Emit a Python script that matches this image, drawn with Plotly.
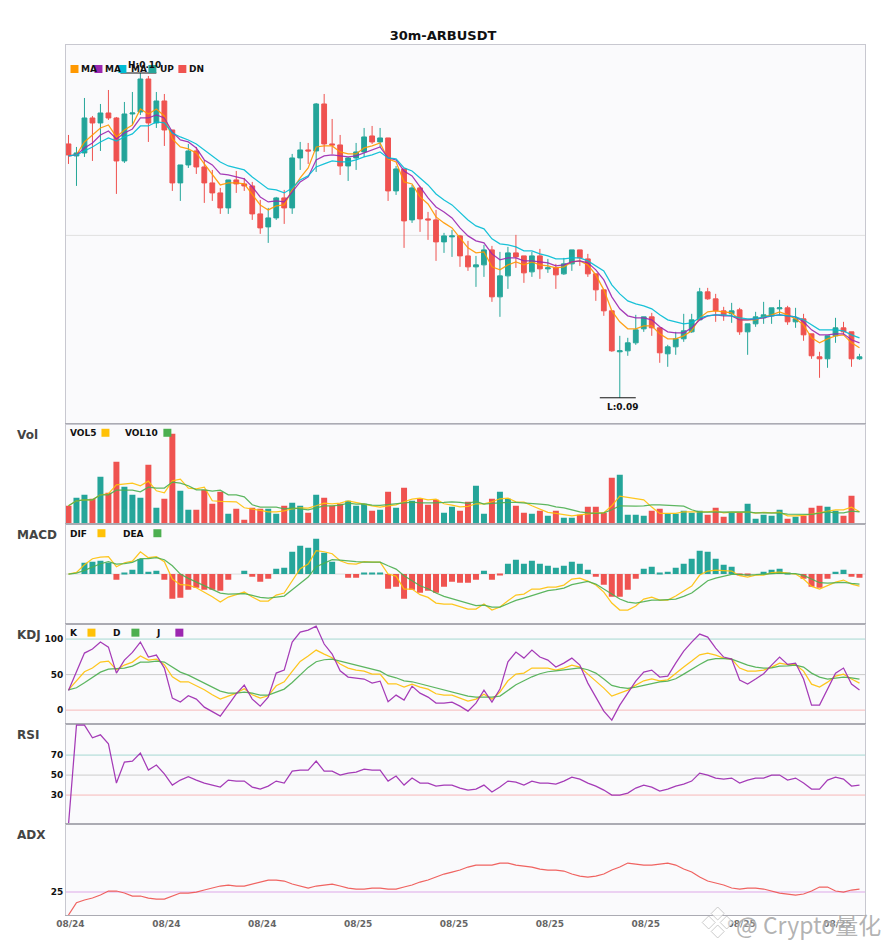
#Recreating the 30m ARBUSDT indicator chart
import numpy as np
import plotly.graph_objects as go
from plotly.subplots import make_subplots

#Prices, 32500 read units = 1 USDT above 0.09
open_read = [254,242,245,280,275,285,280,237,284,286,319,275,297,268,215,233,247,231,215,205,190,218,214,212,184,171,180,200,190,240,
             248,247,294,254,253,232,240,246,262,256,260,207,229,178,210,179,178,156,161,162,142,131,133,148,101,122,145,142,126,142,
             129,130,124,134,148,139,124,108,87,46,47,55,69,81,70,44,51,59,66,78,106,99,87,84,88,66,74,80,82,89,90,76,79,64,41,39,62,70,66,39]
high_read = [263,251,300,282,294,308,281,296,306,325,322,306,304,268,233,254,251,238,228,210,218,227,220,216,198,190,201,208,244,256,
             255,295,304,279,263,241,255,270,272,270,260,232,229,213,212,186,188,165,168,163,157,142,153,152,146,151,163,142,146,149,
             139,134,140,148,148,144,124,108,87,62,60,83,81,85,70,53,66,84,84,110,110,104,91,95,90,74,86,96,90,98,92,90,84,64,46,62,80,76,66,44]
low_read = [234,212,241,237,247,278,204,235,273,283,256,270,252,207,197,230,224,195,197,184,184,205,207,178,164,155,178,174,184,228,
            234,226,246,244,223,217,228,241,254,251,197,203,150,175,166,158,137,145,141,131,127,111,121,96,81,109,130,115,121,119,
            125,109,123,127,132,121,97,82,46,0,42,53,66,62,35,31,43,56,65,78,98,76,77,75,63,43,71,74,74,83,73,70,57,39,20,30,55,63,31,38]
close_read = [243,245,280,275,285,280,237,284,285,319,275,297,268,215,233,247,231,215,205,190,218,214,212,184,170,180,200,190,240,248,
              247,294,254,253,232,240,246,261,256,260,207,229,177,210,179,178,156,162,162,142,131,133,148,101,122,145,141,125,142,129,
              130,123,134,148,140,124,108,87,47,47,55,68,81,70,45,51,59,67,78,106,99,87,83,87,66,74,81,83,90,90,76,79,63,42,39,62,70,66,39,41]
ma5_read = [242,243,256,263,270,273,261,268,273,289,284,289,282,259,251,249,245,234,224,213,215,215,214,203,193,188,192,193,208,220,
            230,251,252,252,246,244,244,250,252,255,239,236,216,214,201,194,181,175,170,160,150,145,146,131,128,133,136,133,136,133,
            132,130,131,136,137,133,123,108,87,76,69,69,72,72,64,59,59,62,67,80,86,87,86,85,78,78,78,81,83,86,83,79,73,60,55,59,62,63,55,50]
ma10_read = [242,243,250,255,263,267,259,265,269,280,280,283,280,266,258,256,250,238,233,224,223,221,219,211,201,196,197,196,206,216,
             221,238,242,243,242,241,242,245,248,251,240,238,227,222,211,200,191,186,180,170,162,157,155,144,138,140,140,137,137,136,
             135,132,133,136,137,135,128,118,101,89,82,80,80,78,71,66,65,65,70,78,82,83,82,82,78,78,79,80,82,83,82,81,76,68,63,63,64,64,58,55]
ma20_read = [242,243,247,251,256,260,257,261,264,272,272,276,275,265,261,258,254,248,242,236,232,230,228,221,215,209,208,205,210,218,
             222,231,234,237,236,236,238,241,243,246,240,239,230,227,220,213,204,198,193,185,178,172,169,159,154,153,151,147,147,144,
             142,139,139,140,140,137,132,127,113,104,97,94,92,89,83,78,76,74,75,80,82,83,83,82,80,79,79,81,82,83,82,81,78,73,68,68,68,67,63,60]

#Volumes
vol = [56,80,89,77,143,95,188,113,89,80,179,50,77,272,101,44,44,104,62,98,32,47,14,50,47,47,32,56,65,56,
       35,89,80,56,62,71,56,62,41,44,98,50,110,71,77,59,74,35,53,41,68,116,32,77,98,77,56,35,32,41,
       26,41,20,20,29,53,53,35,140,149,29,29,26,41,47,32,32,41,35,41,29,50,23,35,35,62,17,29,26,44,
       17,23,26,50,56,53,41,26,86,2]
vol5 = [56,71,74,74,89,92,119,122,124,116,130,101,95,131,136,109,107,112,71,69,68,68,50,47,42,38,38,41,47,50,
        49,56,64,62,64,71,65,61,56,52,56,59,68,76,79,74,76,62,58,53,54,62,62,68,77,79,68,67,56,46,
        36,33,29,26,29,32,35,35,56,85,81,76,74,52,33,33,33,38,38,37,38,41,35,37,36,38,34,36,35,37,
        26,26,27,31,36,41,44,44,52,38]
vol10 = [56,71,74,74,89,89,103,103,103,98,112,109,109,127,124,116,104,104,100,103,89,89,83,59,52,52,52,47,50,47,
         44,50,56,56,58,64,61,62,58,57,60,63,64,67,65,64,65,66,68,66,63,69,61,63,65,66,66,65,62,61,
         59,53,50,44,38,35,33,35,44,56,55,55,56,59,59,58,56,55,44,37,37,37,38,38,38,38,35,35,34,34,
         31,30,30,30,34,38,35,35,40,38]

#MACD
macd_hist = [0,0,34,37,40,34,-17,4,13,45,7,10,-17,-74,-71,-47,-41,-47,-47,-50,-17,0,10,-8,-23,-14,16,19,67,85,
             79,106,64,37,0,-11,-11,3,3,3,-44,-38,-74,-47,-56,-50,-56,-38,-23,-26,-26,-17,10,-17,-2,31,43,31,40,31,
             25,19,25,37,31,13,-8,-32,-68,-68,-47,-14,16,22,4,7,19,31,46,70,67,46,28,22,-3,-3,0,7,13,16,
             3,0,-14,-38,-41,-14,7,13,-8,-11]
dif = [0,5,28,46,51,52,22,34,39,67,49,52,37,-15,-32,-33,-41,-54,-68,-84,-69,-62,-54,-69,-81,-81,-63,-57,-21,16,
       30,70,67,61,40,31,30,37,36,36,0,-6,-45,-45,-62,-70,-87,-90,-90,-97,-105,-105,-90,-108,-99,-80,-63,-60,-45,-45,
       -39,-39,-33,-15,-12,-21,-33,-54,-87,-108,-108,-96,-75,-69,-78,-78,-66,-51,-36,-3,9,12,10,9,-5,-9,-3,-3,4,6,
       3,0,-15,-37,-45,-35,-24,-18,-30,-36]
dea = [0,3,11,21,31,37,30,31,35,46,46,49,43,25,0,-13,-24,-36,-47,-57,-60,-60,-59,-64,-70,-72,-68,-66,-47,-27,
       -9,22,33,43,42,39,37,36,36,36,25,15,-5,-20,-35,-44,-57,-67,-74,-81,-88,-95,-93,-99,-99,-89,-79,-72,-64,-56,
       -50,-47,-42,-32,-26,-22,-30,-45,-60,-75,-84,-87,-83,-78,-78,-77,-75,-67,-57,-39,-20,-12,-6,-1,-1,-3,-2,0,3,3,
       1,1,-4,-15,-26,-27,-26,-25,-28,-30]

#KDJ
k_line = [28.6,41.3,54,59.2,67.6,69,56.8,63.4,67.6,76.1,70.4,71.8,63.9,47,39.9,39.9,34.3,28.6,21.6,15.5,19.7,23.9,30,21.6,16.9,20.2,34.3,39.9,54.5,68.5,
          76.1,84.5,78.9,73.7,64.8,59.2,56.3,54.9,50.7,50.7,37.1,37.1,32.4,36.6,32.4,29.6,23,21.1,21.1,16.9,12.7,15.5,22.5,15.5,25.4,41.3,50.7,52.1,59.2,59.2,
          59.2,56.3,59.2,63.4,60.6,50.7,41.3,31,19.7,23.9,28.2,35.2,41.3,44.1,41.3,42.7,52.1,60.6,69,77.9,80.3,77.5,73.2,71.8,59.2,54.9,54.9,56.3,60.6,66.2,
          63.9,63.9,54.9,36.6,32.4,39.4,47.9,50.7,43.7,38]
d_line = [28.6,31.5,38.5,46.5,53.5,57.7,58.2,59.2,62,67.6,67.6,69,67.6,60.6,53.5,49.3,43.7,38,32.4,26.8,23.9,23.9,25.4,23.9,21.1,21.1,25.4,29.6,39,49.3,
          60.1,68.1,70.9,71.8,69,66.2,63.4,60.6,57.7,54.9,48.4,45.5,41.3,39.9,37.1,34.3,31.5,28.6,25.8,23,19.7,18.3,18.3,18.3,19.7,27.2,35.7,41.3,46.9,51.2,
          54,55.4,56.8,59.2,59.6,56.8,52.1,43.7,34.7,31.9,30.5,32.4,35.2,38,39.9,40.8,44.1,50.7,57.7,64.3,70.4,72.3,72.3,71.8,67.6,63.4,60.6,59.2,59.6,62,
          62.4,63.4,60.6,52.1,46.5,43.7,45.1,46.5,45.5,43.7]
j_line = [27.7,55.4,80.3,85.9,95.8,88.7,52.1,70.4,81.2,95.8,74.7,77.5,59.2,16.9,11.3,20.2,15.5,4.2,-1.9,-8.5,7,23,35.2,15.5,5.6,18.3,52.1,56.3,95.8,109.9,
          112.7,118.3,93,78.9,55.4,46.5,45.1,43.7,38,40.8,11.7,21.1,14.1,33.8,23.9,18.3,9.9,9.9,11.3,5.6,-1.4,9.9,28.2,11.3,29.6,68.1,81.7,73.2,84.5,74.7,
          70.4,60.6,66.2,73.2,63.4,38,18.3,-1.4,-14.1,7,23.9,40.8,53.5,56.3,46.5,47.9,66.2,83.1,95.8,107,102.8,87.3,74.7,71.8,42.3,36.6,43.7,51.2,63.4,74.7,
          64.3,66.2,43.7,7,7,29.6,52.1,59.2,36.6,28.2]

#RSI and ADX
rsi = [0,100,100,87.3,90.3,81.3,42,63,64,72,55,60,51.3,40,45,48.3,45,42,40,38,45,44,44,38,36,39,44,42,54,55,
       55,64,54,54,50,52,53,56,55,55,44,49,40,47,42,42,39,40,40,37,35,36,40,33,38,44,43,40,44,42,
       42,41,44,48,46,42,39,35,30,30,32,37,40,38,34,36,39,41,44,52,50,47,46,47,42,45,47,47,50,50,
       45,47,42,36,36,45,48,46,39,40]
adx = [11.2,18.6,20.2,21.4,23.2,25.6,25.6,24.4,22.6,22.6,21.4,20.8,20.8,22.6,24.4,24.4,25,26.2,27.4,28.6,29.2,28.6,28.6,29.8,31,32.2,32.2,31.6,29.8,28.6,
       27.4,28.6,29.2,29.8,28.6,27.4,26.8,26.8,27.4,27.4,26.8,26.8,28,29.2,31,32.2,34,35.8,37,38.2,40,41.2,41.2,41.2,42.4,42.4,41.2,40.6,40,38.8,
       38.2,38.2,37.6,35.8,34.6,34,34.6,35.8,38.2,40,42.4,41.8,41.2,41.2,41.8,42.4,41.2,38.8,37,34,31.6,30.4,29.2,27.4,26.8,27.4,27.4,26.8,25.6,24.4,
       23.8,23.2,23.8,25.6,28,28,25.6,25,26.2,26.8]

#Axis labels
x_tick_pos = [0,12,24,36,48,60,72,84,96]
x_tick_text = ["08/24","08/24","08/24","08/25","08/25","08/25","08/25","08/25","08/25"]
panel_names = ["Vol","MACD","KDJ","RSI","ADX"]

series = [open_read,high_read,low_read,close_read,ma5_read,ma10_read,ma20_read,vol,vol5,vol10,
          macd_hist,dif,dea,k_line,d_line,j_line,rsi,adx]
for s in series:
    assert len(s) == 100, len(s)

#Colours
UP = "#26A69A"
DN = "#EF5350"
ORANGE = "#FF9800"
PURPLE = "#9C27B0"
CYAN = "#00BCD4"
YELLOW = "#FFC107"
GREEN = "#4CAF50"
LABEL = "#444444"

#Position of the plot area in the window
LEFT, RIGHT, TOP, BOTTOM = 65.5, 865.5, 45.0, 915.5

def px_x(px):
    return (px - LEFT) / (RIGHT - LEFT)

def px_y(py):
    return (BOTTOM - py) / (BOTTOM - TOP)

def to_price(values):
    return 0.09 + np.array(values) / 32500

x = np.arange(100)
is_up = np.array(close_read) >= np.array(open_read)
vol_colors = [UP if u else DN for u in is_up]
macd_colors = [UP if h >= 0 else DN for h in macd_hist]

fig = make_subplots(rows=6, cols=1, shared_xaxes=True, vertical_spacing=0)

#Candles and averages
fig.add_trace(go.Candlestick(
    x=x, open=to_price(open_read), high=to_price(high_read), low=to_price(low_read), close=to_price(close_read),
    increasing=dict(line=dict(color=UP, width=1), fillcolor=UP),
    decreasing=dict(line=dict(color=DN, width=1), fillcolor=DN),
    name="K"), row=1, col=1)

def add_line(values, color, row, name):
    fig.add_trace(go.Scatter(x=x, y=values, mode="lines", name=name, opacity=0.9,
                             line=dict(color=color, width=1.25)), row=row, col=1)

add_line(to_price(ma5_read), ORANGE, 1, "MA5")
add_line(to_price(ma10_read), PURPLE, 1, "MA10")
add_line(to_price(ma20_read), CYAN, 1, "MA20")

fig.add_trace(go.Bar(x=x, y=vol, marker=dict(color=vol_colors, line=dict(width=0)), name="Vol"), row=2, col=1)
add_line(vol5, YELLOW, 2, "VOL5")
add_line(vol10, GREEN, 2, "VOL10")

fig.add_trace(go.Bar(x=x, y=macd_hist, marker=dict(color=macd_colors, line=dict(width=0)), name="MACD"), row=3, col=1)
add_line(dif, YELLOW, 3, "DIF")
add_line(dea, GREEN, 3, "DEA")

add_line(k_line, YELLOW, 4, "K")
add_line(d_line, GREEN, 4, "D")
add_line(j_line, PURPLE, 4, "J")
add_line(rsi, PURPLE, 5, "RSI")
add_line(adx, DN, 6, "ADX")

#Panels, each 100px tall under the price panel
domains = [(TOP, 424.7), (424.7, 524.7), (524.7, 624.7), (624.7, 724.5), (724.5, 824.5), (824.5, BOTTOM)]
y_ranges = [[0.089178, 0.100862], [0, 300], [-151, 149], [-19.7, 120.7], [1, 101], [11.2, 65.8]]
y_ticks = [[], [], [], [0, 50, 100], [30, 50, 70], [25]]
for i in range(6):
    fig.update_yaxes(row=i + 1, col=1, domain=[px_y(domains[i][1]), px_y(domains[i][0])], range=y_ranges[i],
                     tickvals=y_ticks[i], showgrid=False, zeroline=False, showline=True, mirror=True,
                     linecolor="#C8C8D0", linewidth=1, ticks="",
                     tickfont=dict(family="DejaVu Sans", size=9, color="#111111", weight="bold"))
    fig.update_xaxes(row=i + 1, col=1, range=[-0.31, 99.69], showgrid=False, zeroline=False, showline=True, mirror=True,
                     linecolor="#ABABB3", linewidth=1, ticks="", rangeslider=dict(visible=False))
fig.update_xaxes(row=1, col=1, linecolor="#C8C8D0")
fig.update_xaxes(row=6, col=1, tickmode="array", tickvals=[p + 0.25 for p in x_tick_pos], ticktext=x_tick_text,
                 tickfont=dict(family="DejaVu Sans", size=9, color="#666666", weight="bold"))

#Notes placed by window pixels
notes = []
def note(px, py, text, size=9, color="#111111", anchor="left", family="DejaVu Sans"):
    shift = -2 if anchor == "left" else 0
    notes.append(dict(xref="paper", yref="paper", x=px_x(px), y=px_y(py), xshift=shift, text="<b>" + text + "</b>", showarrow=False,
                      xanchor=anchor, yanchor="middle", font=dict(family=family, size=size, color=color)))

shapes = []
def swatch(px, py, color):
    shapes.append(dict(type="rect", xref="paper", yref="paper", x0=px_x(px), x1=px_x(px + 8), y0=px_y(py), y1=px_y(py + 8),
                       fillcolor=color, line=dict(width=0)))

#Highest and lowest candle marks
hi_i = int(np.argmax(high_read))
lo_i = int(np.argmin(low_read))
hi_p = to_price(high_read)[hi_i]
lo_p = to_price(low_read)[lo_i]
for pos, price in [(hi_i, hi_p), (lo_i, lo_p)]:
    shapes.append(dict(type="line", xref="x", yref="y", x0=pos - 2.5, x1=pos + 2, y0=price, y1=price,
                       line=dict(color="#111111", width=1)))
note(144.5, 65, "H:0.10", anchor="center")
note(623.5, 407, "L:0.09", anchor="center")

note(81, 69, "MA")
note(105, 69, "MA")
note(131, 69, "MA")
note(160, 69, "UP")
note(189, 69, "DN")
for sx, col in [(70, ORANGE), (94, PURPLE), (118, CYAN), (148, UP), (178, DN)]:
    swatch(sx, 65, col)

note(70, 433.5, "VOL5")
note(125, 433.5, "VOL10")
swatch(101, 429, YELLOW)
swatch(163, 429, GREEN)

note(70, 534, "DIF")
note(123, 534, "DEA")
swatch(97, 529.5, YELLOW)
swatch(153, 529.5, GREEN)

note(70, 633.5, "K")
note(113, 633.5, "D")
note(156, 633.5, "J")
swatch(87, 629, YELLOW)
swatch(131, 629, GREEN)
swatch(175, 629, PURPLE)

for name, py in zip(panel_names, [435, 535, 635, 735, 835]):
    note(16, py, name, size=12, color=LABEL)

#Watermark in the corner
notes.append(dict(xref="paper", yref="paper", x=px_x(734), y=px_y(925), text="@ Crypto量化", showarrow=False,
                  xanchor="left", yanchor="middle",
                  font=dict(family="Noto Sans CJK SC", size=23, color="rgba(165,165,165,0.85)", shadow="0 0 3px white")))
for cx, cy in [(718, 914), (709, 923), (727, 923), (718, 932)]:
    d = 6.5
    path = "M {} {} L {} {} L {} {} L {} {} Z".format(px_x(cx), px_y(cy - d), px_x(cx + d), px_y(cy), px_x(cx), px_y(cy + d), px_x(cx - d), px_y(cy))
    shapes.append(dict(type="path", xref="paper", yref="paper", path=path,
                       fillcolor="rgba(255,255,255,0.7)", line=dict(color="rgba(190,190,190,0.8)", width=1)))

fig.update_layout(
    width=885, height=950, autosize=False,
    margin=dict(l=LEFT, r=885 - RIGHT, t=TOP, b=950 - BOTTOM, pad=0),
    paper_bgcolor="white", plot_bgcolor="#FAFAFC",
    title=dict(text="<b>30m-ARBUSDT</b>", x=(443 / 885), xanchor="center", y=1 - 35 / 950, yanchor="middle",
               font=dict(family="DejaVu Sans", size=13, color="#111111")),
    showlegend=False, bargap=0.25, boxgap=0.4, boxgroupgap=0,
    annotations=notes, shapes=shapes,
)

#Reference lines
ref_lines = [(1, 0.095, "#E0E0E0"), (3, 0, "#DDDDDD"),
             (4, 100, "#A5D8D2"), (4, 50, "#CCCCCC"), (4, 0, "#F7B9B9"),
             (5, 70, "#A5D8D2"), (5, 50, "#CCCCCC"), (5, 30, "#F7B9B9"),
             (6, 25, "#DDA8E8")]
for row, val, col in ref_lines:
    fig.add_hline(y=val, row=row, col=1, line=dict(color=col, width=1), layer="below")

fig.write_html("out.html", config=dict(displayModeBar=False),
               post_script="document.body.style.margin='0';document.documentElement.style.overflow='hidden';")
